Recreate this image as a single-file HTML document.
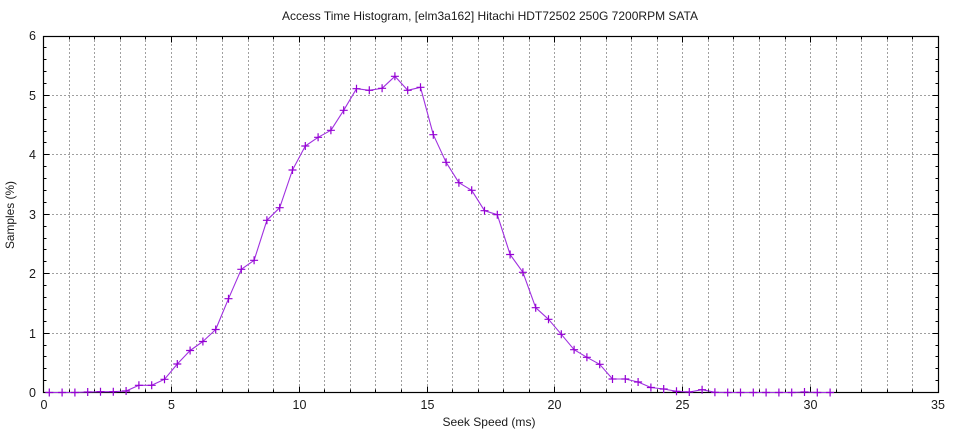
<!DOCTYPE html>
<html>
<head>
<meta charset="utf-8">
<style>
  html,body{margin:0;padding:0;background:#fff;}
  svg{display:block;}
  text{font-family:"Liberation Sans","DejaVu Sans",sans-serif;fill:#1a1a1a;}
</style>
</head>
<body>
<svg width="960" height="432" viewBox="0 0 960 432" xmlns="http://www.w3.org/2000/svg">
  <rect x="0" y="0" width="960" height="432" fill="#fff"/>

  <!-- grid -->
  <g stroke="#a0a0a0" stroke-width="1" stroke-dasharray="2,2" fill="none">
    <path d="M69.5,36V392 M94.5,36V392 M120.5,36V392 M145.5,36V392 M171.5,36V392 M196.5,36V392 M222.5,36V392 M248.5,36V392 M273.5,36V392 M299.5,36V392 M324.5,36V392 M350.5,36V392 M375.5,36V392 M401.5,36V392 M427.5,36V392 M452.5,36V392 M478.5,36V392 M503.5,36V392 M529.5,36V392 M554.5,36V392 M580.5,36V392 M606.5,36V392 M631.5,36V392 M657.5,36V392 M682.5,36V392 M708.5,36V392 M733.5,36V392 M759.5,36V392 M785.5,36V392 M810.5,36V392 M836.5,36V392 M861.5,36V392 M887.5,36V392 M912.5,36V392"/>
    <path d="M44,333.5H938 M44,273.5H938 M44,214.5H938 M44,154.5H938 M44,95.5H938"/>
  </g>

  <!-- ticks -->
  <g stroke="#000" stroke-width="1" fill="none">
    <!-- left/right minor -->
    <path d="M43.5,380.5h3M43.5,368.5h3M43.5,356.5h3M43.5,345.5h3M43.5,321.5h3M43.5,309.5h3M43.5,297.5h3M43.5,285.5h3M43.5,261.5h3M43.5,249.5h3M43.5,238.5h3M43.5,226.5h3M43.5,202.5h3M43.5,190.5h3M43.5,178.5h3M43.5,166.5h3M43.5,142.5h3M43.5,131.5h3M43.5,119.5h3M43.5,107.5h3M43.5,83.5h3M43.5,71.5h3M43.5,59.5h3M43.5,47.5h3"/>
    <path d="M938.5,380.5h-3M938.5,368.5h-3M938.5,356.5h-3M938.5,345.5h-3M938.5,321.5h-3M938.5,309.5h-3M938.5,297.5h-3M938.5,285.5h-3M938.5,261.5h-3M938.5,249.5h-3M938.5,238.5h-3M938.5,226.5h-3M938.5,202.5h-3M938.5,190.5h-3M938.5,178.5h-3M938.5,166.5h-3M938.5,142.5h-3M938.5,131.5h-3M938.5,119.5h-3M938.5,107.5h-3M938.5,83.5h-3M938.5,71.5h-3M938.5,59.5h-3M938.5,47.5h-3"/>
    <!-- left/right major -->
    <path d="M43.5,333.5h6M43.5,273.5h6M43.5,214.5h6M43.5,154.5h6M43.5,95.5h6"/>
    <path d="M938.5,333.5h-6M938.5,273.5h-6M938.5,214.5h-6M938.5,154.5h-6M938.5,95.5h-6"/>
    <!-- bottom minor -->
    <path d="M69.5,392.5v-3M94.5,392.5v-3M120.5,392.5v-3M145.5,392.5v-3M196.5,392.5v-3M222.5,392.5v-3M248.5,392.5v-3M273.5,392.5v-3M324.5,392.5v-3M350.5,392.5v-3M375.5,392.5v-3M401.5,392.5v-3M452.5,392.5v-3M478.5,392.5v-3M503.5,392.5v-3M529.5,392.5v-3M580.5,392.5v-3M606.5,392.5v-3M631.5,392.5v-3M657.5,392.5v-3M708.5,392.5v-3M733.5,392.5v-3M759.5,392.5v-3M785.5,392.5v-3M836.5,392.5v-3M861.5,392.5v-3M887.5,392.5v-3M912.5,392.5v-3"/>
    <path d="M171.5,392.5v-6M299.5,392.5v-6M427.5,392.5v-6M554.5,392.5v-6M682.5,392.5v-6M810.5,392.5v-6"/>
    <!-- top minor -->
    <path d="M69.5,36.5v3M94.5,36.5v3M120.5,36.5v3M145.5,36.5v3M196.5,36.5v3M222.5,36.5v3M248.5,36.5v3M273.5,36.5v3M324.5,36.5v3M350.5,36.5v3M375.5,36.5v3M401.5,36.5v3M452.5,36.5v3M478.5,36.5v3M503.5,36.5v3M529.5,36.5v3M580.5,36.5v3M606.5,36.5v3M631.5,36.5v3M657.5,36.5v3M708.5,36.5v3M733.5,36.5v3M759.5,36.5v3M785.5,36.5v3M836.5,36.5v3M861.5,36.5v3M887.5,36.5v3M912.5,36.5v3"/>
    <path d="M171.5,36.5v6M299.5,36.5v6M427.5,36.5v6M554.5,36.5v6M682.5,36.5v6M810.5,36.5v6"/>
  </g>

  <!-- border -->
  <rect x="43.5" y="36.5" width="895" height="356" fill="none" stroke="#000" stroke-width="1.2"/>

  <!-- data line -->
  <polyline fill="none" stroke="#a030e0" stroke-width="1.1" stroke-linejoin="round"
    points="49.3,392.5 62.1,392.5 74.9,392.5 87.7,392 100.5,391.7 113.3,391.7 126.1,391 138.9,385.3 151.7,385.3 164.5,379.3 177.3,364 190.1,350.5 202.9,341.5 215.7,329.5 228.5,298.7 241.3,269.3 254.1,260.3 266.9,220.3 279.7,207.7 292.5,170 305.3,146 318.1,137.3 330.9,130.3 343.7,110.3 356.5,88.7 369.3,90.3 382.1,88.3 394.9,76.3 407.7,90.3 420.5,87.3 433.3,134.7 446.1,162.3 458.9,182.7 471.7,190.3 484.5,210.7 497.3,214.7 510.1,254.5 522.9,272.3 535.7,307.7 548.5,319.3 561.3,334.3 574.1,349.7 586.9,357.3 599.7,364.3 612.5,379 625.3,379 638.1,382 650.9,387.5 663.7,389 676.5,391.3 689.3,392 702.1,389.7 714.9,392.3 727.7,392.5 740.5,392.5 753.3,392.5 766.1,392.5 778.9,392.5 791.7,392.5 804.5,392 817.3,392.5 830.1,392.5"/>

  <!-- markers -->
  <path fill="none" stroke="#9400d3" stroke-width="1.2"
    d="M45.3,392.5h8M49.3,388.5v8M58.1,392.5h8M62.1,388.5v8M70.9,392.5h8M74.9,388.5v8M83.7,392h8M87.7,388v8M96.5,391.7h8M100.5,387.7v8M109.3,391.7h8M113.3,387.7v8M122.1,391h8M126.1,387v8M134.9,385.3h8M138.9,381.3v8M147.7,385.3h8M151.7,381.3v8M160.5,379.3h8M164.5,375.3v8M173.3,364h8M177.3,360v8M186.1,350.5h8M190.1,346.5v8M198.9,341.5h8M202.9,337.5v8M211.7,329.5h8M215.7,325.5v8M224.5,298.7h8M228.5,294.7v8M237.3,269.3h8M241.3,265.3v8M250.1,260.3h8M254.1,256.3v8M262.9,220.3h8M266.9,216.3v8M275.7,207.7h8M279.7,203.7v8M288.5,170h8M292.5,166v8M301.3,146h8M305.3,142v8M314.1,137.3h8M318.1,133.3v8M326.9,130.3h8M330.9,126.3v8M339.7,110.3h8M343.7,106.3v8M352.5,88.7h8M356.5,84.7v8M365.3,90.3h8M369.3,86.3v8M378.1,88.3h8M382.1,84.3v8M390.9,76.3h8M394.9,72.3v8M403.7,90.3h8M407.7,86.3v8M416.5,87.3h8M420.5,83.3v8M429.3,134.7h8M433.3,130.7v8M442.1,162.3h8M446.1,158.3v8M454.9,182.7h8M458.9,178.7v8M467.7,190.3h8M471.7,186.3v8M480.5,210.7h8M484.5,206.7v8M493.3,214.7h8M497.3,210.7v8M506.1,254.5h8M510.1,250.5v8M518.9,272.3h8M522.9,268.3v8M531.7,307.7h8M535.7,303.7v8M544.5,319.3h8M548.5,315.3v8M557.3,334.3h8M561.3,330.3v8M570.1,349.7h8M574.1,345.7v8M582.9,357.3h8M586.9,353.3v8M595.7,364.3h8M599.7,360.3v8M608.5,379h8M612.5,375v8M621.3,379h8M625.3,375v8M634.1,382h8M638.1,378v8M646.9,387.5h8M650.9,383.5v8M659.7,389h8M663.7,385v8M672.5,391.3h8M676.5,387.3v8M685.3,392h8M689.3,388v8M698.1,389.7h8M702.1,385.7v8M710.9,392.3h8M714.9,388.3v8M723.7,392.5h8M727.7,388.5v8M736.5,392.5h8M740.5,388.5v8M749.3,392.5h8M753.3,388.5v8M762.1,392.5h8M766.1,388.5v8M774.9,392.5h8M778.9,388.5v8M787.7,392.5h8M791.7,388.5v8M800.5,392h8M804.5,388v8M813.3,392.5h8M817.3,388.5v8M826.1,392.5h8M830.1,388.5v8"/>

  <!-- title -->
  <text x="490" y="20" font-size="12" text-anchor="middle" textLength="416" lengthAdjust="spacingAndGlyphs">Access Time Histogram, [elm3a162] Hitachi HDT72502 250G 7200RPM SATA</text>

  <!-- y tick labels -->
  <g font-size="12.5" text-anchor="end">
    <text x="36" y="397">0</text>
    <text x="36" y="338">1</text>
    <text x="36" y="278">2</text>
    <text x="36" y="219">3</text>
    <text x="36" y="159">4</text>
    <text x="36" y="100">5</text>
    <text x="36" y="40">6</text>
  </g>

  <!-- x tick labels -->
  <g font-size="12.5" text-anchor="middle">
    <text x="44" y="409">0</text>
    <text x="171.5" y="409">5</text>
    <text x="299.5" y="409">10</text>
    <text x="427.5" y="409">15</text>
    <text x="554.5" y="409">20</text>
    <text x="682.5" y="409">25</text>
    <text x="810.5" y="409">30</text>
    <text x="938" y="409">35</text>
  </g>

  <!-- axis labels -->
  <text x="489" y="426" font-size="12" text-anchor="middle" textLength="93" lengthAdjust="spacingAndGlyphs">Seek Speed (ms)</text>
  <text transform="translate(14,215) rotate(-90)" font-size="12" text-anchor="middle" textLength="68" lengthAdjust="spacingAndGlyphs">Samples (%)</text>
</svg>
</body>
</html>
